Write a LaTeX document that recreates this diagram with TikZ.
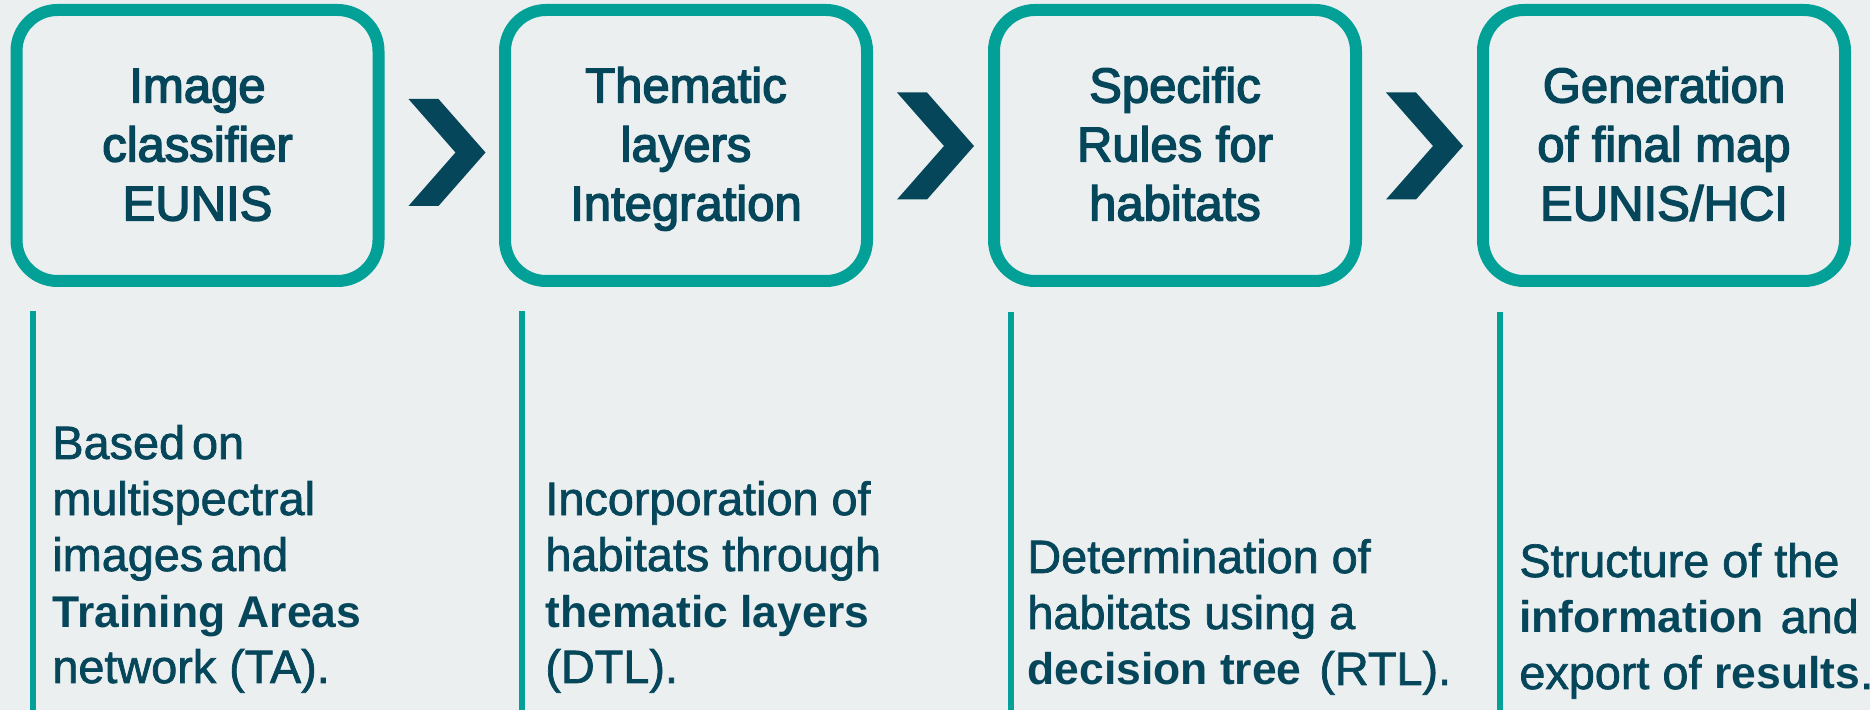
\documentclass[tikz,border=0pt]{standalone}
\usepackage{fontspec}
\setmainfont{Liberation Sans}
% slightly heavier upright strokes, as in presentation rendering
\newfontfamily\titlefont{Liberation Sans}[UprightFeatures={FakeBold=3}]
\newfontfamily\bodyfont{Liberation Sans}[UprightFeatures={FakeBold=1.5}]
\newfontfamily\strongfont{Liberation Sans Bold}[Scale=0.95]
\newcommand\strongtxt[1]{{\strongfont #1}}
\usetikzlibrary{calc}
\definecolor{bgc}{HTML}{EBEFF0}
\definecolor{tealc}{HTML}{02A097}
\definecolor{inkc}{HTML}{05465A}
\begin{document}
\begin{tikzpicture}[x=0.5pt,y=-0.5pt,
  stepbox/.style={draw=tealc, line width=6pt, rounded corners=20.5pt,
    minimum width=181pt, minimum height=135.5pt, inner sep=0pt},
  title/.style={anchor=base, inner sep=0pt, text=inkc,
    font=\titlefont\fontsize{24.5pt}{29.5pt}\selectfont},
  body/.style={anchor=base west, inner sep=0pt, text=inkc,
    font=\bodyfont\fontsize{23.4pt}{28pt}\selectfont},
  rule/.style={draw=tealc, line width=3pt},
  chev/.style={fill=inkc},
]
% canvas
\fill[bgc] (0,0) rectangle (1870,710);
\useasboundingbox (0,0) rectangle (1870,710);

% process steps
\node[stepbox] (b1) at (197.5,145.5) {};
\node[stepbox] (b2) at (686,145.5) {};
\node[stepbox] (b3) at (1175,145.5) {};
\node[stepbox] (b4) at (1664,145.5) {};

\node[title] (t1) at ($(b1.center)+(0,75)$)
  {\begin{tabular}[b]{@{}c@{}}Image\\classifier\\EUNIS\end{tabular}};
\node[title] (t2) at ($(b2.center)+(0,75)$)
  {\begin{tabular}[b]{@{}c@{}}Thematic\\layers\\Integration\end{tabular}};
\node[title] (t3) at ($(b3.center)+(0,75)$)
  {\begin{tabular}[b]{@{}c@{}}Specific\\Rules for\\habitats\end{tabular}};
\node[title] (t4) at ($(b4.center)+(0,75)$)
  {\begin{tabular}[b]{@{}c@{}}Generation\\of final map\\EUNIS/HCI\end{tabular}};

% chevrons between the steps
\fill[chev] ($(b1.east)+(24,-46.5)$) -- ++(30,0) -- ++(47,53.5) -- ++(-47,53.5)
  -- ++(-30,0) -- ++(47,-53.5) -- cycle;
\fill[chev] ($(b2.east)+(24,-53)$) -- ++(30,0) -- ++(47,53.5) -- ++(-47,53.5)
  -- ++(-30,0) -- ++(47,-53.5) -- cycle;
\fill[chev] ($(b3.east)+(24,-53)$) -- ++(30,0) -- ++(47,53.5) -- ++(-47,53.5)
  -- ++(-30,0) -- ++(47,-53.5) -- cycle;

% side rules of the descriptions
\coordinate (r1) at (33,311);
\coordinate (r2) at (522,311);
\coordinate (r3) at (1011,312);
\coordinate (r4) at (1500,312);
\draw[rule] (r1) -- (r1 |- 0,710);
\draw[rule] (r2) -- (r2 |- 0,710);
\draw[rule] (r3) -- (r3 |- 0,710);
\draw[rule] (r4) -- (r4 |- 0,710);

% descriptions
\node[body] (d1) at (52,683)
  {\begin{tabular}[b]{@{}l@{}}Based\kern.15em on\\multispectral\\images\kern.15em and\\\strongtxt{Training Areas}\\network (TA).\end{tabular}};
\node[body] (d2) at (545,683)
  {\begin{tabular}[b]{@{}l@{}}Incorporation of\\habitats through\\\strongtxt{thematic layers}\\(DTL).\end{tabular}};
\node[body] (d3) at (1027,685)
  {\begin{tabular}[b]{@{}l@{}}Determination of\\habitats using a\\\strongtxt{decision tree}\kern.1em\ (RTL).\end{tabular}};
\node[body] (d4) at (1519,689)
  {\begin{tabular}[b]{@{}l@{}}Structure of the\\\strongtxt{information}\kern.08em\ and\\export of \strongtxt{results}.\end{tabular}};
\end{tikzpicture}
\end{document}
